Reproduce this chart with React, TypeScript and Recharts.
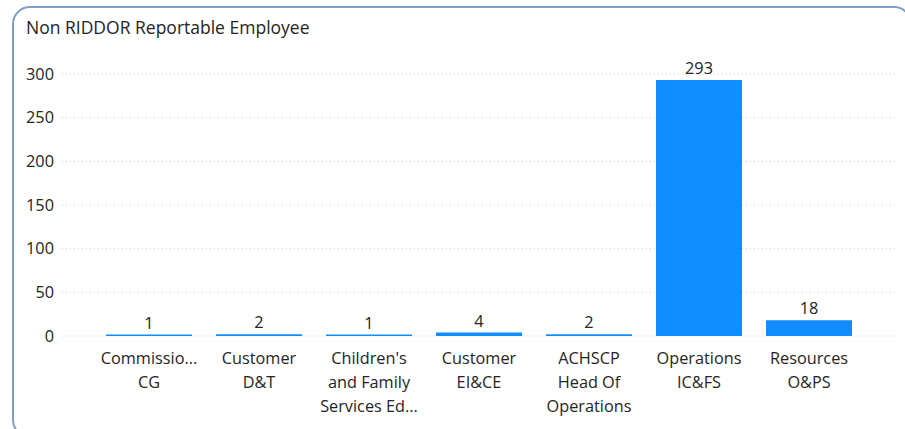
import React from 'react';
import { BarChart, Bar, XAxis, YAxis, CartesianGrid, LabelList } from 'recharts';

const categories = [
  'Commissio...\nCG',
  'Customer\nD&T',
  "Children's\nand Family\nServices Ed...",
  'Customer\nEI&CE',
  'ACHSCP\nHead Of\nOperations',
  'Operations\nIC&FS',
  'Resources\nO&PS',
];
const values = [1, 2, 1, 4, 2, 293, 18];
const yTicks = [0, 50, 100, 150, 200, 250, 300];

const data = categories.map((c, i) => ({ name: c, value: values[i] }));

const FONT = '"Segoe UI", "Open Sans", sans-serif';
const TEXT = '#252423';

const MultiTick = (props: any) => {
  const { x, y, payload } = props;
  const lines = String(payload.value).split('\n');
  return (
    <text x={x} y={y} textAnchor="middle" fill={TEXT} fontSize={16.3} fontFamily={FONT}>
      {lines.map((l, i) => (
        <tspan key={i} x={x} y={y + 20 + i * 24}>
          {l}
        </tspan>
      ))}
    </text>
  );
};

export default function App() {
  return (
    <div style={{ position: 'absolute', left: 0, top: 0, width: 905, height: 429, overflow: 'hidden', background: '#fff' }}>
      <div
        style={{
          position: 'absolute',
          left: 12,
          top: 6,
          width: 900,
          height: 432,
          border: '2px solid #819fc6',
          borderRadius: 18,
          boxSizing: 'border-box',
        }}
      />
      <div
        style={{
          position: 'absolute',
          left: 26,
          top: 15,
          fontFamily: FONT,
          fontSize: 17.5,
          color: TEXT,
          whiteSpace: 'nowrap',
        }}
      >
        Non RIDDOR Reportable Employee
      </div>
      <div style={{ position: 'absolute', left: 0, top: 0 }}>
        <BarChart
          width={905}
          height={429}
          data={data}
          margin={{ top: 74, right: 10, bottom: 63, left: 0 }}
          barCategoryGap={12}
        >
          <CartesianGrid vertical={false} stroke="#c8c8c8" strokeDasharray="1 3" />
          <XAxis
            dataKey="name"
            height={30}
            axisLine={false}
            tickLine={false}
            interval={0}
            padding={{ left: 32, right: 31 }}
            tick={<MultiTick />}
          />
          <YAxis
            width={62}
            domain={[0, 300]}
            ticks={yTicks}
            axisLine={false}
            tickLine={false}
            tick={{ fill: TEXT, fontSize: 16.3, fontFamily: FONT }}
          />
          <Bar dataKey="value" fill="#118DFF" minPointSize={1.5} isAnimationActive={false}>
            <LabelList
              dataKey="value"
              position="top"
              offset={6}
              fill={TEXT}
              fontSize={16.3}
              fontFamily={FONT}
            />
          </Bar>
        </BarChart>
      </div>
    </div>
  );
}
